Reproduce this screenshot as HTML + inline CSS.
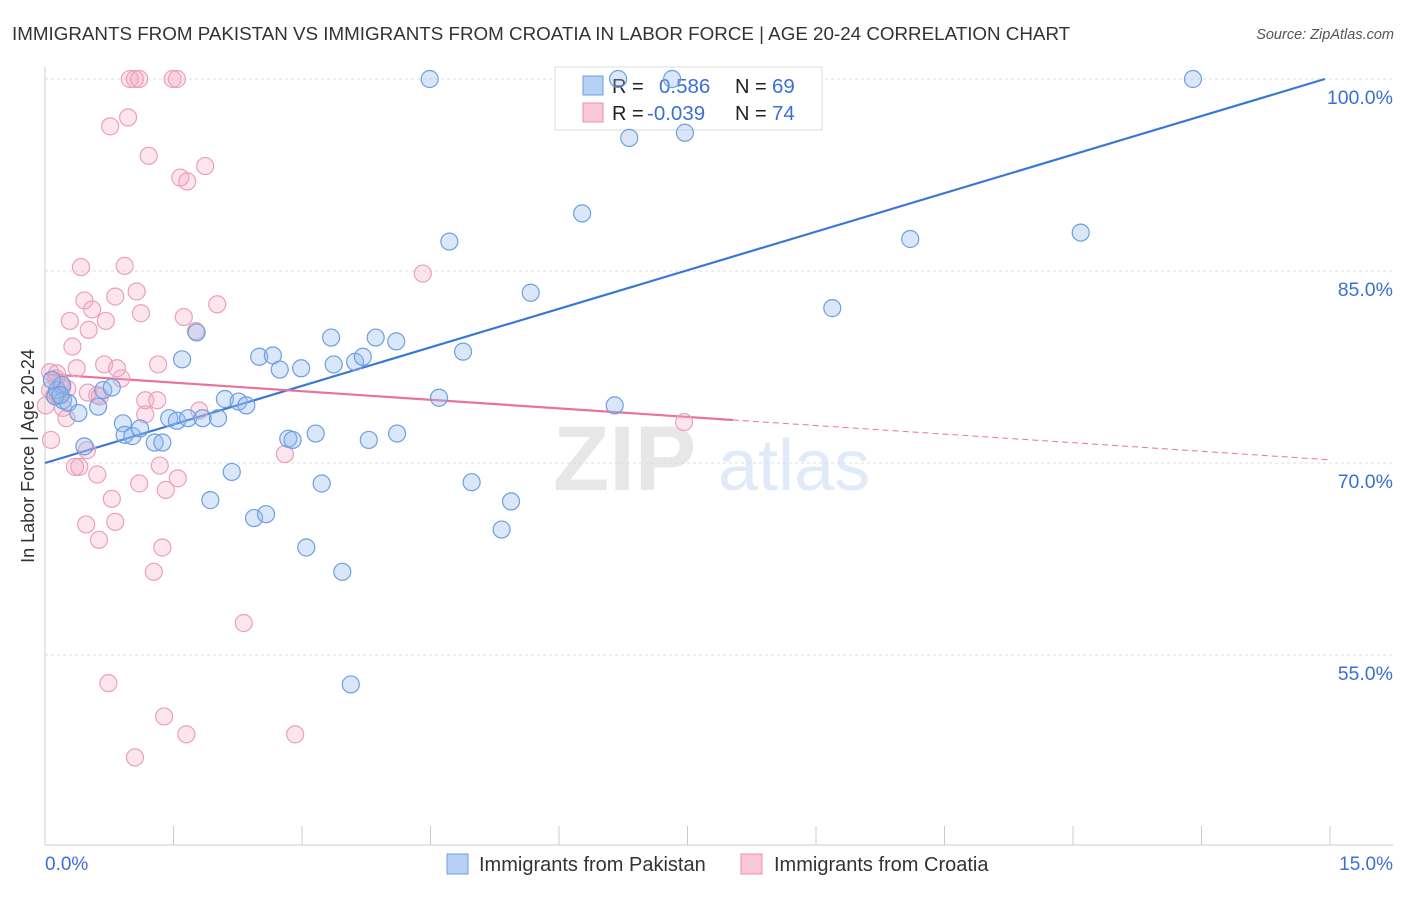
<!DOCTYPE html>
<html><head><meta charset="utf-8"><style>
body{margin:0;background:#fff;font-family:"Liberation Sans",sans-serif}
svg text{font-family:"Liberation Sans",sans-serif}
</style></head><body>
<svg id="chart" width="1406" height="892" xmlns="http://www.w3.org/2000/svg">
<text x="12" y="40" font-size="18.8" fill="#333">IMMIGRANTS FROM PAKISTAN VS IMMIGRANTS FROM CROATIA IN LABOR FORCE | AGE 20-24 CORRELATION CHART</text>
<text x="1394" y="39" font-size="14.5" fill="#555" font-style="italic" text-anchor="end">Source: ZipAtlas.com</text>
<g opacity="0.35">
<text x="553" y="490" font-size="92" fill="#bbb" font-family="Liberation Serif,serif" font-weight="bold">ZIP</text>
<text x="718" y="490" font-size="72" fill="#a9c4ee">atlas</text>
</g>
<g id="grid"></g>
<g id="axes"></g>
<g>
<rect x="555" y="67" width="267" height="63" fill="#fff" stroke="#ddd"/>
<rect x="583" y="76" width="20" height="19" fill="#b7d1f4" stroke="#6d9fe0"/>
<rect x="583" y="103" width="20" height="19" fill="#f8c8d8" stroke="#e890b0"/>
<text x="612" y="93" font-size="20" fill="#222">R = </text>
<text x="659" y="93" font-size="20.5" fill="#3a6fd8">0.586</text>
<text x="735" y="93" font-size="20" fill="#222">N = </text>
<text x="772" y="93" font-size="20.5" fill="#3a6fd8">69</text>
<text x="612" y="120" font-size="20" fill="#222">R = </text>
<text x="647" y="120" font-size="20.5" fill="#3a6fd8">-0.039</text>
<text x="735" y="120" font-size="20" fill="#222">N = </text>
<text x="772" y="120" font-size="20.5" fill="#3a6fd8">74</text>
</g>
<g id="trend"></g>
<g id="points"></g>
<g>
<rect x="447" y="854" width="21" height="20" fill="#b7d1f4" stroke="#6d9fe0"/>
<text x="479" y="871" font-size="20" fill="#333">Immigrants from Pakistan</text>
<rect x="741" y="854" width="21" height="20" fill="#f8c8d8" stroke="#e890b0"/>
<text x="774" y="871" font-size="20" fill="#333">Immigrants from Croatia</text>
</g>
<text transform="translate(34,456) rotate(-90)" font-size="18" fill="#333" text-anchor="middle">In Labor Force | Age 20-24</text>
</svg>
<script>
const blueX=[4.49,6.69,7.32,13.40,6.82,7.47,6.27,4.72,10.10,12.09,5.67,9.19,1.77,1.60,2.50,2.66,2.74,2.99,3.34,3.37,3.62,3.71,3.86,4.10,4.88,4.60,6.65,0.14,0.20,0.21,0.27,0.39,0.62,0.68,0.78,0.91,0.93,1.02,1.11,1.28,1.37,1.45,1.54,1.67,1.84,2.02,2.10,2.26,2.35,2.18,1.93,2.44,2.58,2.84,2.89,3.16,3.23,3.05,3.47,3.57,3.78,4.11,4.98,5.44,5.33,0.46,0.08,0.12,0.18];
const blueY=[100,100,100,100,95.4,95.8,89.5,87.3,87.5,88.0,83.3,82.1,80.2,78.1,78.3,78.4,77.3,77.4,79.8,77.7,77.9,78.3,79.8,79.5,78.7,75.1,74.5,75.7,76.1,74.9,74.7,73.9,74.4,75.7,75.9,73.1,72.2,72.1,72.7,71.6,71.6,73.5,73.3,73.5,73.5,73.5,75.0,74.8,74.5,69.3,67.1,65.7,66.0,71.9,71.8,72.3,68.4,63.4,61.5,52.7,71.8,72.3,68.5,67.0,64.8,71.3,76.5,75.2,75.3];
const pinkX=[0.99,1.05,1.10,1.49,1.54,0.97,0.76,1.21,1.87,1.58,1.66,0.42,0.93,4.41,1.07,0.46,0.82,0.55,1.12,2.01,1.62,1.76,0.29,0.71,0.51,0.32,0.37,0.69,0.84,1.32,0.06,0.14,0.18,0.26,0.89,0.61,0.50,0.64,0.11,1.17,1.31,0.21,1.17,0.25,1.80,0.07,0.49,0.35,0.40,1.34,2.80,0.61,1.55,1.10,1.41,0.78,0.48,0.82,0.63,1.37,1.27,2.32,0.74,1.39,1.65,2.92,1.05,7.46,0.01,0.15,0.06,0.13,0.20];
const pinkY=[100,100,100,100,100,97.0,96.3,94.0,93.2,92.3,92.0,85.3,85.4,84.8,83.4,82.7,83.0,82.0,81.7,82.4,81.4,80.3,81.1,81.1,80.4,79.1,77.4,77.7,77.4,77.7,77.1,77.0,76.3,75.8,76.6,75.3,75.5,75.2,75.3,74.9,74.9,74.3,73.8,73.5,74.1,71.8,71.0,69.7,69.7,69.8,70.7,69.1,68.8,68.4,67.9,67.2,65.2,65.4,64.0,63.4,61.5,57.5,52.8,50.2,48.8,48.8,47.0,73.2,74.5,75.3,75.7,76.6,75.9];
const blueTrend=[70.0,2.008];   // intercept, slope per %
const pinkTrend=[76.95,-0.447];
const pinkSolidEnd=8.03;
const yTicks=[100,85,70,55];
const yTickLabels=["100.0%","85.0%","70.0%","55.0%"];
const xTicks=[0,1.5,3,4.5,6,7.5,9,10.5,12,13.5,15];

const NS="http://www.w3.org/2000/svg";
const X=v=>45+v*85.667, Y=v=>79+(100-v)*12.8;
function mk(tag,attrs,parent){const e=document.createElementNS(NS,tag);for(const k in attrs)e.setAttribute(k,attrs[k]);document.getElementById(parent).appendChild(e);return e;}
yTicks.forEach((t,i)=>{
 const l=mk('line',{x1:45,x2:1393,y1:Y(t),y2:Y(t),stroke:'#ddd','stroke-dasharray':'3,3'},'grid');
 
 
 const tx=mk('text',{x:1393,y:Y(t)+25,'font-size':19.5,fill:'#3a6fd8','text-anchor':'end'},'grid');
 tx.textContent=yTickLabels[i];
 
 
});
const ya=mk('line',{x1:45,x2:45,y1:67,y2:845,stroke:'#ccc'},'axes');


const xa=mk('line',{x1:45,x2:1393,y1:845,y2:845,stroke:'#ccc'},'axes');


xTicks.forEach(t=>{
 const l=mk('line',{x1:X(t),x2:X(t),y1:826,y2:845,stroke:'#ccc'},'axes');
 
 
});
const xl0=mk('text',{x:45,y:870,'font-size':19,fill:'#3a6fd8'},'axes');xl0.textContent='0.0%';


const xl1=mk('text',{x:1393,y:870,'font-size':19,fill:'#3a6fd8','text-anchor':'end'},'axes');xl1.textContent='15.0%';



function dots(xs,ys,fill,stroke,name){xs.forEach((x,i)=>{
 const c=mk('circle',{cx:X(x),cy:Y(ys[i]),r:8.5,fill:fill,stroke:stroke,'stroke-width':1.2},'points');
 
 
});}
dots(pinkX,pinkY,'rgba(244,170,195,0.3)','#eba0bb','croatia-point');
dots(blueX,blueY,'rgba(147,187,238,0.35)','#6d9fe0','pakistan-point');

const bEnd=(100-blueTrend[0])/blueTrend[1];
const bl=mk('line',{x1:X(0),y1:Y(blueTrend[0]),x2:X(bEnd),y2:Y(100),stroke:'#3a78d8','stroke-width':2.2},'trend');


const pv=x=>pinkTrend[0]+pinkTrend[1]*x;
const pl=mk('line',{x1:X(0),y1:Y(pv(0)),x2:X(pinkSolidEnd),y2:Y(pv(pinkSolidEnd)),stroke:'#e8739c','stroke-width':2.2},'trend');


const pd=mk('line',{x1:X(pinkSolidEnd),y1:Y(pv(pinkSolidEnd)),x2:X(15),y2:Y(pv(15)),stroke:'#e8739c','stroke-width':1,'stroke-dasharray':'6,4'},'trend');


</script>
</body></html>
